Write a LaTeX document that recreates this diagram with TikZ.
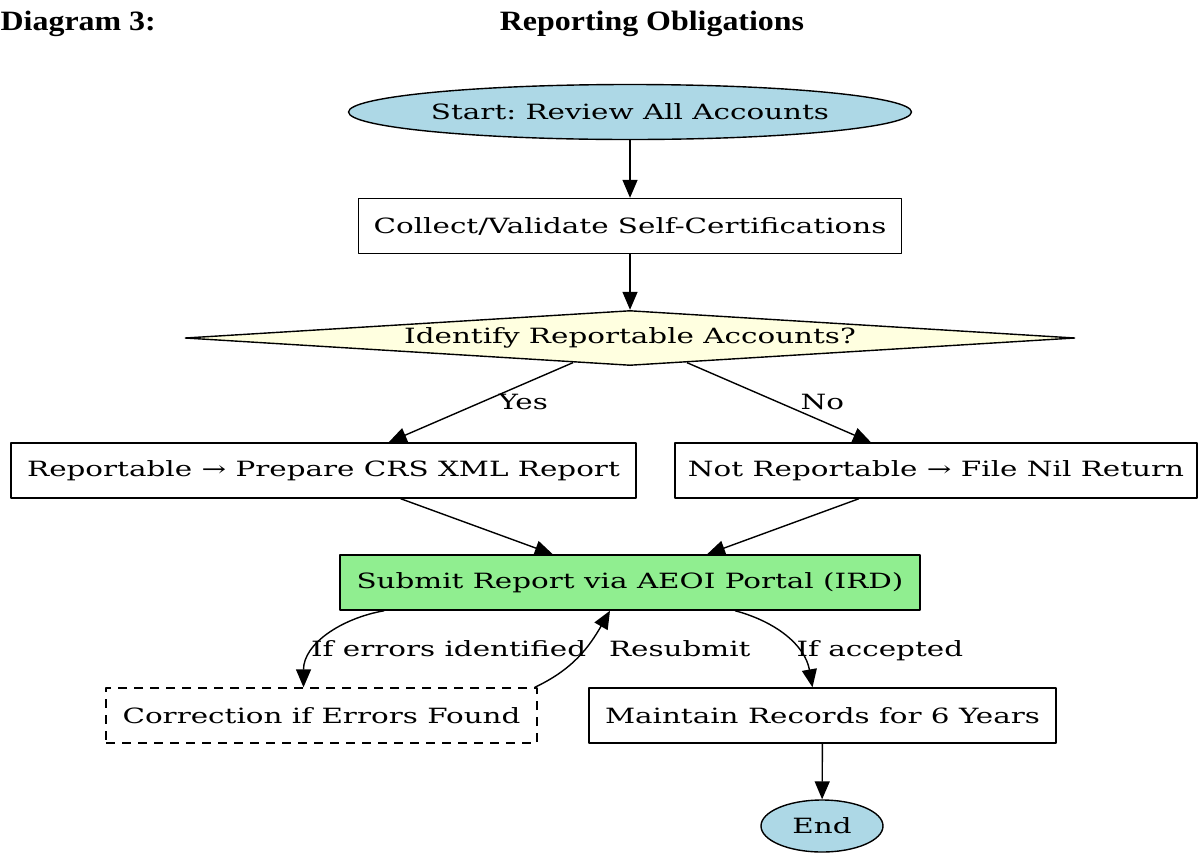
\documentclass[tikz,border=0pt]{standalone}
\usepackage{fontspec}
\setmainfont{DejaVu Serif}[FakeStretch=1.4]
\newfontfamily\titlefont{Liberation Serif}[FakeStretch=1.14]
\usetikzlibrary{arrows.meta,calc,positioning,shapes.geometric}
\definecolor{termblue}{HTML}{ADD8E6}
\definecolor{decyellow}{HTML}{FFFFE0}
\definecolor{submitgreen}{HTML}{90EE90}
\tikzset{
  procbox/.style={draw,rectangle,minimum height=55pt,inner sep=0pt},
  termnode/.style={draw,ellipse,fill=termblue,inner sep=0pt},
  decnode/.style={draw,diamond,fill=decyellow,aspect=16,inner sep=0pt,minimum width=890pt,minimum height=55pt},
  lbl/.style={inner sep=1pt,fill=none},
  ttl/.style={font=\titlefont\bfseries\fontsize{28}{32}\selectfont}
}
\frenchspacing

\begin{document}
\begin{tikzpicture}[x=1pt,y=1pt,>={Triangle[length=18pt,width=15pt]},line width=1.4pt,line join=round,font=\fontsize{21}{25}\selectfont]
\useasboundingbox (0,0) rectangle (1199,-852);
% --- title line
\node[ttl,anchor=west,inner sep=0pt] (ttla) at (0,-24) {Diagram 3:};
\node[ttl] (ttlb) at (652,-24) {Reporting Obligations};
% --- flow
\node[termnode,minimum width=560pt,minimum height=55pt] (start) at (630,-112) {Start: Review All Accounts};
\node[procbox,minimum width=543pt] (collect) at (630,-226) {Collect/Validate Self-Certifications};
\node[decnode] (ident) at (630,-338) {Identify Reportable Accounts?};
\node[procbox,minimum width=625pt] (rep) at (323.5,-470.5) {Reportable → Prepare CRS XML Report};
\node[procbox,minimum width=522pt] (nilret) at (936,-470.5) {Not Reportable → File Nil Return};
\node[procbox,fill=submitgreen,minimum width=580pt] (submit) at (630,-582.5) {Submit Report via AEOI Portal (IRD)};
\node[procbox,dashed,dash pattern=on 9pt off 7pt,minimum width=431pt] (corr) at (321.5,-715.5) {Correction if Errors Found};
\node[procbox,minimum width=467pt] (keep) at (822.5,-715.5) {Maintain Records for 6 Years};
\node[termnode,minimum width=122pt,minimum height=52pt] (finish) at (822,-826) {End};
% --- connectors
\draw[->] (start) -- (collect);
\draw[->] (collect) -- (ident);
\draw[->] (ident) -- node[lbl,midway,anchor=west,xshift=16pt] {Yes} (rep);
\draw[->] (ident) -- node[lbl,midway,anchor=west,xshift=20pt] {No} (nilret);
\draw[->] (rep) -- (submit);
\draw[->] (nilret) -- (submit);
\draw[->] ([xshift=45pt]submit.south west) to[out=190,in=90] node[lbl,pos=0.66,anchor=west,xshift=-6pt] {If errors identified} ([xshift=-18pt]corr.north);
\draw[->] ([xshift=-3pt]corr.north east) to[out=25,in=240] node[lbl,pos=0.6,anchor=west,xshift=22pt] {Resubmit} ([xshift=-20pt]submit.south);
\draw[->] ([xshift=105pt]submit.south) to[out=-15,in=100] node[lbl,pos=0.66,anchor=west,xshift=-3pt] {If accepted} ([xshift=-10pt]keep.north);
\draw[->] (keep) -- (finish);
\end{tikzpicture}
\end{document}
